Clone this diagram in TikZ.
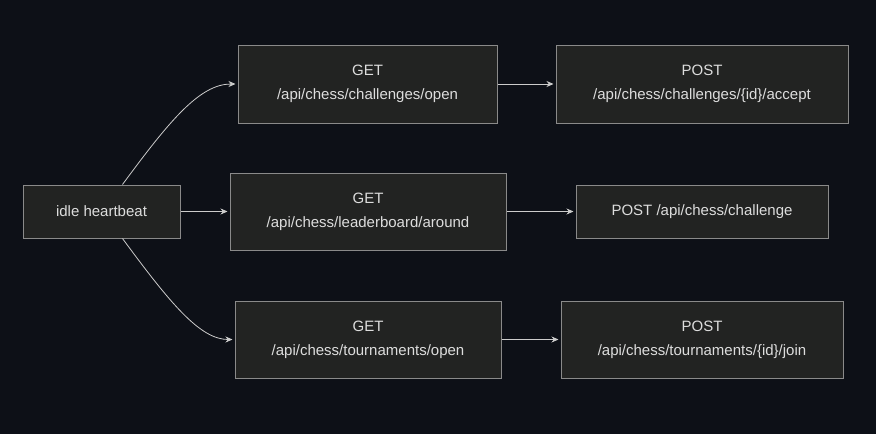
\documentclass[tikz,border=0pt]{standalone}
\usepackage{fontspec}
\setmainfont{Liberation Sans}
\usetikzlibrary{arrows.meta}
\definecolor{bgcol}{HTML}{0D1017}
\definecolor{boxfill}{HTML}{222322}
\definecolor{boxline}{HTML}{8A8A8A}
\definecolor{txtcol}{HTML}{DDDDDD}
\definecolor{linkcol}{HTML}{CCCCCC}

\begin{document}
\begin{tikzpicture}[x=1pt,y=-1pt,>={Stealth[length=7pt,width=6pt]}]
    \tikzstyle{box}=[draw=boxline,fill=boxfill,text=txtcol,font=\fontsize{15}{24}\selectfont,align=center,inner sep=0pt,line width=1pt]
    \tikzstyle{link}=[->,draw=linkcol,line width=0.8pt,shorten >=2pt]

    % Background
    \fill[bgcol] (0,0) rectangle (876,434);
    \useasboundingbox (0,0) rectangle (876,434);

    % Nodes
    \node[box,minimum width=157pt,minimum height=53pt] (idle) at (101.5,211.5) {idle heartbeat};
    \node[box,minimum width=259pt,minimum height=78pt] (open) at (367.5,84) {GET\\/api/chess/challenges/open};
    \node[box,minimum width=292pt,minimum height=78pt] (accept) at (702,84) {POST\\/api/chess/challenges/\{id\}/accept};
    \node[box,minimum width=276pt,minimum height=77pt] (board) at (368,211.5) {GET\\/api/chess/leaderboard/around};
    \node[box,minimum width=252pt,minimum height=53pt] (challenge) at (702,211.5) {POST /api/chess/challenge};
    \node[box,minimum width=266pt,minimum height=77pt] (tourn) at (368,339.5) {GET\\/api/chess/tournaments/open};
    \node[box,minimum width=282pt,minimum height=77pt] (join) at (702,339.5) {POST\\/api/chess/tournaments/\{id\}/join};

    % Connections
    \draw[link] (idle.north east) ++(-58,0) .. controls (170,120) and (200,84) .. (open.west);
    \draw[link] (idle) -- (board);
    \draw[link] (idle.south east) ++(-58,0) .. controls (170,303) and (200,339.5) .. (tourn.west);
    \draw[link] (open) -- (accept);
    \draw[link] (board) -- (challenge);
    \draw[link] (tourn) -- (join);
\end{tikzpicture}
\end{document}
